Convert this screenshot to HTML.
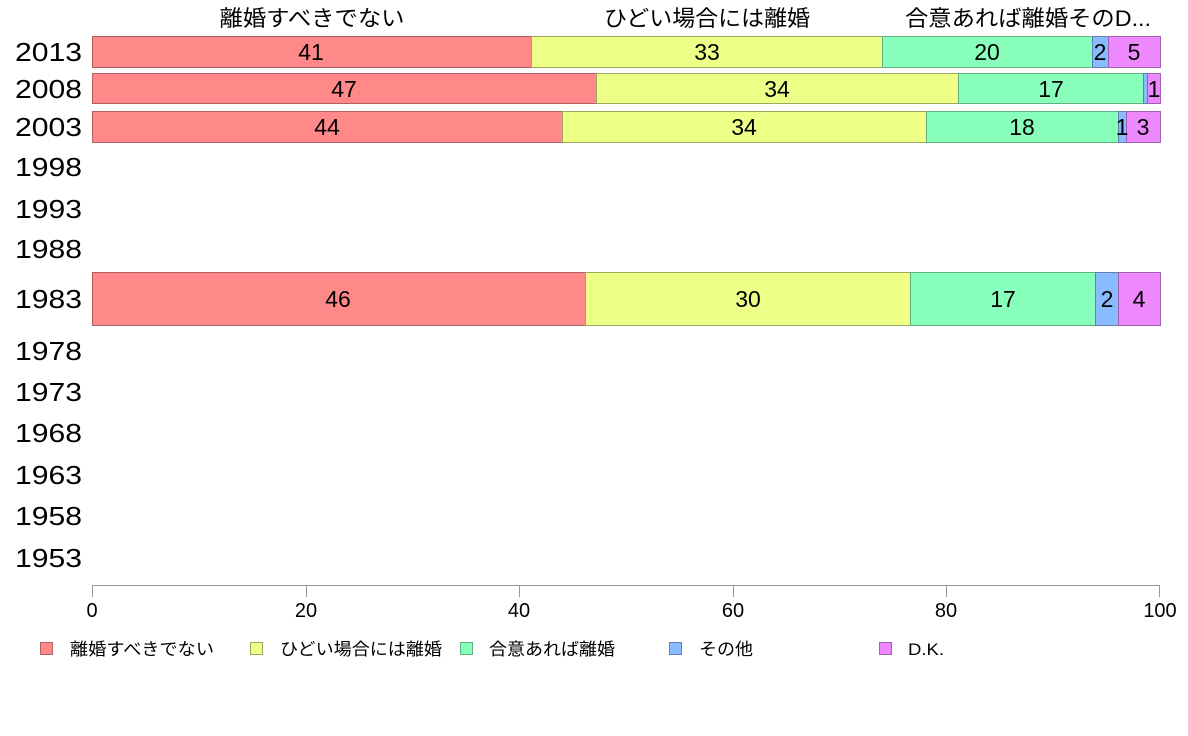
<!DOCTYPE html>
<html><head><meta charset="utf-8"><style>
body{margin:0;background:#fff;}
svg{display:block;font-family:"Liberation Sans","Noto Sans CJK JP",sans-serif;}
</style></head><body>
<svg width="1188" height="736" xmlns="http://www.w3.org/2000/svg">
<g font-size="22" text-anchor="middle" fill="#000">
<text x="312" y="26" textLength="185" lengthAdjust="spacingAndGlyphs">離婚すべきでない</text>
<text x="707" y="26" textLength="206" lengthAdjust="spacingAndGlyphs">ひどい場合には離婚</text>
<text x="1028" y="26" textLength="246" lengthAdjust="spacingAndGlyphs">合意あれば離婚そのD...</text>
</g>
<g font-size="26" text-anchor="end" fill="#000">
<text x="82" y="61" textLength="67" lengthAdjust="spacingAndGlyphs">2013</text><text x="82" y="98" textLength="67" lengthAdjust="spacingAndGlyphs">2008</text><text x="82" y="136" textLength="67" lengthAdjust="spacingAndGlyphs">2003</text>
<text x="82" y="176" textLength="67" lengthAdjust="spacingAndGlyphs">1998</text><text x="82" y="218" textLength="67" lengthAdjust="spacingAndGlyphs">1993</text><text x="82" y="258" textLength="67" lengthAdjust="spacingAndGlyphs">1988</text>
<text x="82" y="308" textLength="67" lengthAdjust="spacingAndGlyphs">1983</text><text x="82" y="360" textLength="67" lengthAdjust="spacingAndGlyphs">1978</text><text x="82" y="401" textLength="67" lengthAdjust="spacingAndGlyphs">1973</text>
<text x="82" y="442" textLength="67" lengthAdjust="spacingAndGlyphs">1968</text><text x="82" y="484" textLength="67" lengthAdjust="spacingAndGlyphs">1963</text><text x="82" y="525" textLength="67" lengthAdjust="spacingAndGlyphs">1958</text>
<text x="82" y="567" textLength="67" lengthAdjust="spacingAndGlyphs">1953</text>
</g>
<g stroke-width="1">
<rect x="92.5" y="36.5" width="439" height="31" fill="#FF8888" stroke="#B06060"/>
<rect x="531.5" y="36.5" width="351" height="31" fill="#EEFF88" stroke="#A0A860"/>
<rect x="882.5" y="36.5" width="210" height="31" fill="#88FFBB" stroke="#60B080"/>
<rect x="1092.5" y="36.5" width="16" height="31" fill="#88BBFF" stroke="#6080B0"/>
<rect x="1108.5" y="36.5" width="52" height="31" fill="#EE88FF" stroke="#A060B0"/>
<rect x="92.5" y="73.5" width="504" height="30" fill="#FF8888" stroke="#B06060"/>
<rect x="596.5" y="73.5" width="362" height="30" fill="#EEFF88" stroke="#A0A860"/>
<rect x="958.5" y="73.5" width="185" height="30" fill="#88FFBB" stroke="#60B080"/>
<rect x="1143.5" y="73.5" width="4" height="30" fill="#88BBFF" stroke="#6080B0"/>
<rect x="1147.5" y="73.5" width="13" height="30" fill="#EE88FF" stroke="#A060B0"/>
<rect x="92.5" y="111.5" width="470" height="31" fill="#FF8888" stroke="#B06060"/>
<rect x="562.5" y="111.5" width="364" height="31" fill="#EEFF88" stroke="#A0A860"/>
<rect x="926.5" y="111.5" width="192" height="31" fill="#88FFBB" stroke="#60B080"/>
<rect x="1118.5" y="111.5" width="8" height="31" fill="#88BBFF" stroke="#6080B0"/>
<rect x="1126.5" y="111.5" width="34" height="31" fill="#EE88FF" stroke="#A060B0"/>
<rect x="92.5" y="272.5" width="493" height="53" fill="#FF8888" stroke="#B06060"/>
<rect x="585.5" y="272.5" width="325" height="53" fill="#EEFF88" stroke="#A0A860"/>
<rect x="910.5" y="272.5" width="185" height="53" fill="#88FFBB" stroke="#60B080"/>
<rect x="1095.5" y="272.5" width="23" height="53" fill="#88BBFF" stroke="#6080B0"/>
<rect x="1118.5" y="272.5" width="42" height="53" fill="#EE88FF" stroke="#A060B0"/>
</g>
<g font-size="23" text-anchor="middle" fill="#000">
<text x="311" y="60">41</text><text x="707" y="60">33</text><text x="987" y="60">20</text><text x="1100" y="60">2</text><text x="1134" y="60">5</text>
<text x="344" y="97">47</text><text x="777" y="97">34</text><text x="1051" y="97">17</text><text x="1154" y="97">1</text>
<text x="327" y="135">44</text><text x="744" y="135">34</text><text x="1022" y="135">18</text><text x="1122" y="135">1</text><text x="1143" y="135">3</text>
<text x="338" y="307">46</text><text x="748" y="307">30</text><text x="1003" y="307">17</text><text x="1107" y="307">2</text><text x="1139" y="307">4</text>
</g>
<g stroke="#999" stroke-width="1">
<line x1="92" y1="585.5" x2="1160" y2="585.5"/>
<line x1="92.5" y1="585" x2="92.5" y2="597"/>
<line x1="306.5" y1="585" x2="306.5" y2="597"/>
<line x1="519.5" y1="585" x2="519.5" y2="597"/>
<line x1="733.5" y1="585" x2="733.5" y2="597"/>
<line x1="946.5" y1="585" x2="946.5" y2="597"/>
<line x1="1159.5" y1="585" x2="1159.5" y2="597"/>
</g>
<g font-size="20" text-anchor="middle" fill="#000">
<text x="92" y="617">0</text><text x="306" y="617">20</text><text x="519" y="617">40</text>
<text x="733" y="617">60</text><text x="946" y="617">80</text><text x="1160" y="617">100</text>
</g>
<g stroke-width="1">
<rect x="40.5" y="642.5" width="12" height="12" fill="#FF8888" stroke="#B06060"/>
<rect x="250.5" y="642.5" width="12" height="12" fill="#EEFF88" stroke="#A0A860"/>
<rect x="460.5" y="642.5" width="12" height="12" fill="#88FFBB" stroke="#60B080"/>
<rect x="669.5" y="642.5" width="12" height="12" fill="#88BBFF" stroke="#6080B0"/>
<rect x="879.5" y="642.5" width="12" height="12" fill="#EE88FF" stroke="#A060B0"/>
</g>
<g font-size="17" fill="#000">
<text x="70" y="655" textLength="144" lengthAdjust="spacingAndGlyphs">離婚すべきでない</text>
<text x="280" y="655" textLength="162" lengthAdjust="spacingAndGlyphs">ひどい場合には離婚</text>
<text x="489" y="655" textLength="126" lengthAdjust="spacingAndGlyphs">合意あれば離婚</text>
<text x="699" y="655" textLength="54" lengthAdjust="spacingAndGlyphs">その他</text>
<text x="908" y="655" textLength="36" lengthAdjust="spacingAndGlyphs">D.K.</text>
</g>
</svg>
</body></html>
